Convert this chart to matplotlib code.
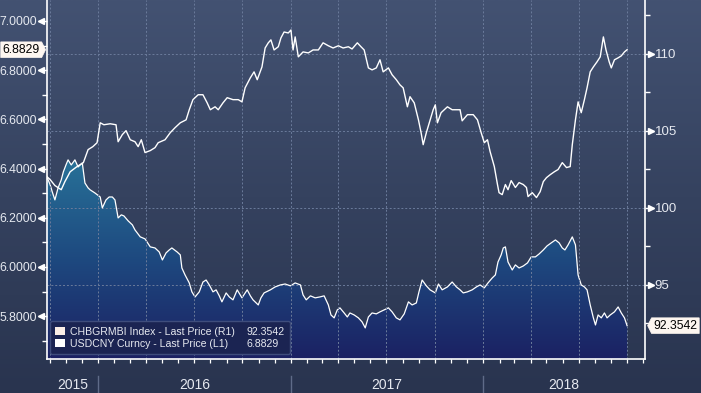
import numpy as np
import pandas as pd
import matplotlib
matplotlib.use("Agg")
import matplotlib.pyplot as plt
import matplotlib.dates as mdates
import matplotlib.transforms as mtrans
from matplotlib.patches import Rectangle
from matplotlib.path import Path
from matplotlib.colors import LinearSegmentedColormap

plt.rcParams['font.family'] = ['Liberation Sans', 'DejaVu Sans']

# USDCNY Curncy (left axis, white line)
usd_dates = ['2015-09-26', '2015-10-02', '2015-10-11', '2015-10-23', '2015-10-30', '2015-11-09',
             '2015-11-22', '2015-12-04', '2015-12-13', '2015-12-22', '2015-12-30', '2016-01-05',
             '2016-01-12', '2016-01-24', '2016-02-04', '2016-02-08', '2016-02-16', '2016-02-23',
             '2016-03-02', '2016-03-11', '2016-03-17', '2016-03-23', '2016-03-30', '2016-04-09',
             '2016-04-18', '2016-04-24', '2016-05-07', '2016-05-17', '2016-05-26', '2016-06-05',
             '2016-06-16', '2016-06-22', '2016-06-29', '2016-07-09', '2016-07-18', '2016-07-26',
             '2016-08-01', '2016-08-10', '2016-08-16', '2016-08-25', '2016-09-02', '2016-09-13',
             '2016-09-23', '2016-09-30', '2016-10-06', '2016-10-16', '2016-10-23', '2016-10-29',
             '2016-11-07', '2016-11-13', '2016-11-19', '2016-11-24', '2016-11-30', '2016-12-08',
             '2016-12-13', '2016-12-19', '2016-12-27', '2017-01-01', '2017-01-05', '2017-01-09',
             '2017-01-15', '2017-01-24', '2017-02-03', '2017-02-12', '2017-02-22', '2017-03-03',
             '2017-03-13', '2017-03-22', '2017-04-01', '2017-04-10', '2017-04-20', '2017-04-27',
             '2017-05-07', '2017-05-14', '2017-05-20', '2017-05-28', '2017-06-04', '2017-06-12',
             '2017-06-19', '2017-06-25', '2017-07-05', '2017-07-12', '2017-07-20', '2017-07-27',
             '2017-08-02', '2017-08-10', '2017-08-15', '2017-08-23', '2017-08-31', '2017-09-05',
             '2017-09-09', '2017-09-15', '2017-09-20', '2017-09-28', '2017-10-02', '2017-10-06',
             '2017-10-13', '2017-10-25', '2017-11-03', '2017-11-13', '2017-11-18', '2017-11-22',
             '2017-12-02', '2017-12-13', '2017-12-21', '2017-12-28', '2018-01-03', '2018-01-09',
             '2018-01-14', '2018-01-22', '2018-01-28', '2018-01-31', '2018-02-06', '2018-02-12',
             '2018-02-17', '2018-02-23', '2018-03-03', '2018-03-10', '2018-03-18', '2018-03-24',
             '2018-03-27', '2018-04-04', '2018-04-12', '2018-04-19', '2018-04-25', '2018-05-01',
             '2018-05-08', '2018-05-16', '2018-05-23', '2018-05-31', '2018-06-08', '2018-06-15',
             '2018-06-19', '2018-06-25', '2018-06-30', '2018-07-06', '2018-07-12', '2018-07-17',
             '2018-07-23', '2018-07-29', '2018-08-05', '2018-08-11', '2018-08-17', '2018-08-22',
             '2018-08-28', '2018-09-01', '2018-09-07', '2018-09-14', '2018-09-20', '2018-09-26',
             '2018-10-01']
usd_vals = [6.367, 6.355, 6.331, 6.314, 6.347, 6.387, 6.408, 6.424, 6.477, 6.489, 6.505, 6.586,
            6.578, 6.582, 6.578, 6.509, 6.538, 6.554, 6.517, 6.509, 6.489, 6.517, 6.465, 6.473,
            6.485, 6.505, 6.517, 6.546, 6.566, 6.586, 6.598, 6.639, 6.680, 6.700, 6.700, 6.667,
            6.639, 6.651, 6.639, 6.667, 6.688, 6.680, 6.680, 6.671, 6.728, 6.769, 6.793, 6.761,
            6.813, 6.890, 6.911, 6.923, 6.882, 6.895, 6.931, 6.955, 6.951, 6.963, 6.882, 6.935,
            6.854, 6.874, 6.870, 6.882, 6.882, 6.911, 6.899, 6.890, 6.899, 6.890, 6.895, 6.886,
            6.911, 6.895, 6.882, 6.809, 6.801, 6.809, 6.842, 6.793, 6.809, 6.781, 6.761, 6.740,
            6.728, 6.651, 6.692, 6.667, 6.598, 6.546, 6.497, 6.546, 6.582, 6.639, 6.659, 6.586,
            6.627, 6.651, 6.639, 6.639, 6.639, 6.594, 6.619, 6.619, 6.598, 6.546, 6.505, 6.517,
            6.469, 6.408, 6.335, 6.302, 6.294, 6.335, 6.314, 6.351, 6.323, 6.343, 6.335, 6.323,
            6.286, 6.302, 6.282, 6.306, 6.347, 6.363, 6.375, 6.387, 6.396, 6.424, 6.404, 6.408,
            6.497, 6.598, 6.671, 6.627, 6.680, 6.728, 6.793, 6.813, 6.834, 6.854, 6.935, 6.882,
            6.834, 6.809, 6.842, 6.850, 6.858, 6.874, 6.8829]

# CHGRMBI Index (right axis, filled area)
chg_dates = ['2015-09-26', '2015-10-02', '2015-10-06', '2015-10-11', '2015-10-17', '2015-10-23',
             '2015-10-27', '2015-11-01', '2015-11-05', '2015-11-11', '2015-11-18', '2015-11-24',
             '2015-12-02', '2015-12-07', '2015-12-13', '2015-12-17', '2015-12-26', '2016-01-05',
             '2016-01-09', '2016-01-16', '2016-01-22', '2016-01-28', '2016-02-02', '2016-02-08',
             '2016-02-14', '2016-02-19', '2016-02-27', '2016-03-06', '2016-03-11', '2016-03-21',
             '2016-03-30', '2016-04-09', '2016-04-18', '2016-04-26', '2016-05-02', '2016-05-09',
             '2016-05-15', '2016-05-20', '2016-05-30', '2016-06-05', '2016-06-08', '2016-06-14',
             '2016-06-22', '2016-06-27', '2016-07-03', '2016-07-11', '2016-07-18', '2016-07-24',
             '2016-07-30', '2016-08-06', '2016-08-12', '2016-08-18', '2016-08-23', '2016-08-31',
             '2016-09-06', '2016-09-13', '2016-09-21', '2016-09-30', '2016-10-10', '2016-10-16',
             '2016-10-21', '2016-10-31', '2016-11-05', '2016-11-11', '2016-11-23', '2016-12-02',
             '2016-12-12', '2016-12-21', '2016-12-31', '2017-01-09', '2017-01-19', '2017-01-24',
             '2017-01-30', '2017-02-07', '2017-02-16', '2017-02-25', '2017-03-05', '2017-03-13',
             '2017-03-18', '2017-03-24', '2017-03-30', '2017-04-04', '2017-04-12', '2017-04-18',
             '2017-04-23', '2017-05-01', '2017-05-09', '2017-05-16', '2017-05-22', '2017-05-28',
             '2017-06-04', '2017-06-12', '2017-06-19', '2017-06-27', '2017-07-05', '2017-07-12',
             '2017-07-20', '2017-07-27', '2017-08-04', '2017-08-12', '2017-08-19', '2017-08-27',
             '2017-09-01', '2017-09-07', '2017-09-15', '2017-09-22', '2017-10-02', '2017-10-08',
             '2017-10-15', '2017-10-25', '2017-11-03', '2017-11-11', '2017-11-18', '2017-11-24',
             '2017-12-02', '2017-12-11', '2017-12-19', '2017-12-26', '2018-01-03', '2018-01-10',
             '2018-01-18', '2018-01-24', '2018-01-29', '2018-02-04', '2018-02-08', '2018-02-12',
             '2018-02-17', '2018-02-25', '2018-03-03', '2018-03-10', '2018-03-18', '2018-03-26',
             '2018-04-02', '2018-04-10', '2018-04-17', '2018-04-25', '2018-05-02', '2018-05-10',
             '2018-05-18', '2018-05-25', '2018-05-31', '2018-06-05', '2018-06-11', '2018-06-19',
             '2018-06-25', '2018-06-30', '2018-07-06', '2018-07-12', '2018-07-17', '2018-07-23',
             '2018-07-29', '2018-08-02', '2018-08-07', '2018-08-13', '2018-08-19', '2018-08-24',
             '2018-08-30', '2018-09-07', '2018-09-14', '2018-09-20', '2018-09-26', '2018-10-01']
chg_vals = [102.0, 101.5, 101.04, 100.52, 101.3, 101.82, 102.34, 102.79, 103.12, 102.79, 103.12,
            102.66, 102.92, 101.62, 101.3, 101.17, 100.97, 100.71, 100.0, 100.52, 100.71, 100.71,
            100.52, 99.35, 99.55, 99.48, 99.16, 98.9, 98.57, 98.12, 97.99, 97.47, 97.4, 97.14,
            96.62, 97.08, 97.27, 97.4, 97.14, 96.95, 96.1, 95.65, 95.13, 94.55, 94.22, 94.55,
            95.19, 95.32, 95.0, 94.55, 94.68, 94.29, 93.9, 94.48, 94.22, 94.03, 94.68, 94.16,
            94.68, 94.29, 94.03, 93.7, 94.16, 94.48, 94.68, 94.87, 95.0, 95.06, 94.94, 95.13,
            95.0, 94.35, 94.03, 94.29, 94.16, 94.22, 94.29, 93.7, 93.05, 92.86, 93.38, 93.51,
            93.18, 92.92, 93.18, 93.05, 92.86, 92.6, 92.21, 92.92, 93.18, 93.12, 93.25, 93.38,
            93.51, 93.25, 92.86, 92.73, 93.12, 93.9, 93.7, 93.83, 94.55, 95.32, 94.94, 94.68,
            94.48, 95.06, 94.68, 94.87, 95.19, 94.87, 94.68, 94.48, 94.55, 94.68, 94.87, 95.0,
            94.81, 95.13, 95.45, 95.65, 96.49, 96.95, 97.4, 97.47, 96.49, 95.97, 96.3, 96.1,
            96.23, 96.43, 96.82, 96.82, 97.01, 97.27, 97.53, 97.73, 97.92, 97.73, 97.4, 97.27,
            97.6, 98.12, 97.6, 95.65, 95.0, 94.87, 94.68, 93.7, 92.86, 92.4, 93.05, 92.86,
            93.18, 92.86, 93.05, 93.25, 93.57, 93.18, 92.86, 92.3542]

left_ticks = [5.8, 6.0, 6.2, 6.4, 6.6, 6.8, 7.0]
left_minor = [5.7, 5.9, 6.1, 6.3, 6.5, 6.7, 6.9]
right_ticks = [95, 100, 105, 110]
right_minor = [92.5, 97.5, 102.5, 107.5, 112.5]
year_labels = ['2015', '2016', '2017', '2018']
legend_names = ['CHBGRMBI Index - Last Price (R1)', 'USDCNY Curncy - Last Price (L1)']
last_chg = '92.3542'
last_usd = '6.8829'

x_start, x_end = pd.Timestamp('2015-09-26'), pd.Timestamp('2018-11-04')
left_lim = (5.626, 7.085)
right_lim = (90.19, 113.5)
txt = '#e6e9f0'


def tag_right(x0, y0, width, height, mutation_size):
    pad = 0.15 * mutation_size
    x0, y0, w, h = x0 - pad, y0 - pad, width + 2 * pad, height + 2 * pad
    tip = h * 0.25
    return Path([(x0, y0), (x0 + w, y0), (x0 + w + tip, y0 + h / 2), (x0 + w, y0 + h),
                 (x0, y0 + h), (x0, y0)], closed=True)


def tag_left(x0, y0, width, height, mutation_size):
    pad = 0.15 * mutation_size
    x0, y0, w, h = x0 - pad, y0 - pad, width + 2 * pad, height + 2 * pad
    tip = h * 0.25
    return Path([(x0, y0), (x0 + w, y0), (x0 + w, y0 + h), (x0, y0 + h),
                 (x0 - tip, y0 + h / 2), (x0, y0)], closed=True)


fig = plt.figure(figsize=(7.01, 3.93), dpi=100)

# background gradient
bg = fig.add_axes([0, 0, 1, 1], zorder=-10)
bg_cmap = LinearSegmentedColormap.from_list('bg', ['#29344f', '#35425f', '#435272'])
bg.imshow(np.linspace(0, 1, 256).reshape(-1, 1), cmap=bg_cmap, aspect='auto',
          origin='lower', extent=[0, 1, 0, 1])
bg.axis('off')

ax = fig.add_axes([47 / 701, 1 - 359 / 393, 598 / 701, 359 / 393])
ax2 = ax.twinx()
ax.set_zorder(ax2.get_zorder() + 1)
ax.patch.set_visible(False)
ax2.patch.set_visible(False)

ud = pd.to_datetime(usd_dates)
cd = pd.to_datetime(chg_dates)

ax.plot(ud, usd_vals, color='white', lw=1.0, zorder=3)

# filled CHGRMBI with vertical gradient
poly = ax2.fill_between(cd, chg_vals, right_lim[0], facecolor='none', edgecolor='none')
x0n, x1n = mdates.date2num(x_start), mdates.date2num(x_end)
fill_cmap = LinearSegmentedColormap.from_list('fill', ['#1b2163', '#1e4a80', '#287399'])
im = ax2.imshow(np.linspace(0, 1, 256).reshape(-1, 1), cmap=fill_cmap, aspect='auto',
                origin='lower', extent=[x0n, x1n, right_lim[0], 103.5], zorder=0.5)
im.set_clip_path(poly.get_paths()[0], transform=ax2.transData)
ax2.plot(cd, chg_vals, color='white', lw=0.9, zorder=2)

ax.set_xlim(x_start, x_end)
ax.set_ylim(*left_lim)
ax2.set_ylim(*right_lim)

# grids
grid_kw = dict(color='#6b7b9b', lw=0.7, ls=(0, (2, 2)))
ax2.set_yticks(right_ticks)
ax2.set_yticks(right_minor, minor=True)
ax2.grid(axis='y', **grid_kw)
ax2.set_axisbelow('line')
ax.xaxis.set_major_locator(mdates.MonthLocator(bymonth=[1, 4, 7, 10]))
ax.xaxis.set_minor_locator(mdates.MonthLocator())
ax.grid(axis='x', **grid_kw)
ax.tick_params(axis='x', which='both', length=3, width=0.9, color='white',
               labelbottom=False, direction='out')

# left axis ticks
ax.set_yticks(left_ticks)
ax.set_yticks(left_minor, minor=True)
ax.set_yticklabels([f'{v:.4f}' for v in left_ticks])
ax.tick_params(axis='y', which='major', length=6.5, width=1, color='white',
               labelcolor=txt, labelsize=8.8, pad=0.5)
ax.tick_params(axis='y', which='minor', length=3.5, width=1, color='white')
ax2.set_yticklabels([f'{v}' for v in right_ticks])
ax2.tick_params(axis='y', which='major', length=6.5, width=1, color='white',
                labelcolor=txt, labelsize=9.5, pad=0.5)
ax2.tick_params(axis='y', which='minor', length=3.5, width=1, color='white')

tl = mtrans.blended_transform_factory(ax.transAxes, ax.transData) + \
    mtrans.ScaledTranslation(-4.4 / 72, 0, fig.dpi_scale_trans)
ax.plot([0] * len(left_ticks), left_ticks, ls='none', marker='<', ms=4, color='white',
        transform=tl, clip_on=False)
tr = mtrans.blended_transform_factory(ax2.transAxes, ax2.transData) + \
    mtrans.ScaledTranslation(4.4 / 72, 0, fig.dpi_scale_trans)
ax2.plot([1] * len(right_ticks), right_ticks, ls='none', marker='>', ms=4, color='white',
         transform=tr, clip_on=False)

for s in ['top', 'right']:
    ax.spines[s].set_visible(False)
for s in ['left', 'bottom']:
    ax.spines[s].set_color('white')
    ax.spines[s].set_linewidth(1.2)
for s in ['top', 'left', 'bottom']:
    ax2.spines[s].set_visible(False)
ax2.spines['right'].set_color('white')
ax2.spines['right'].set_linewidth(1.2)

# year labels and separators
bt = mtrans.blended_transform_factory(ax.transData, ax.transAxes)
bounds = [x_start] + [pd.Timestamp(f'{y}-01-01') for y in year_labels[1:]] + [x_end]
for i, lab in enumerate(year_labels):
    mid = bounds[i] + (bounds[i + 1] - bounds[i]) / 2
    ax.text(mid, -0.073, lab, transform=bt, ha='center', va='center', fontsize=10,
            color=txt, clip_on=False)
for b in bounds[1:-1]:
    ax.plot([b, b], [-0.047, -0.11], transform=bt, color='#5f6b88', lw=1, clip_on=False)

# last value tags
ax.text(-0.012, float(last_usd), last_usd, transform=mtrans.blended_transform_factory(
    ax.transAxes, ax.transData), ha='right', va='center', fontsize=8.8, color='black',
    bbox=dict(boxstyle=tag_right, fc='#fdf6f0', ec='#fdf6f0', lw=0.5), zorder=10, clip_on=False)
ax2.text(1.014, float(last_chg), last_chg, transform=mtrans.blended_transform_factory(
    ax2.transAxes, ax2.transData), ha='left', va='center', fontsize=8.8, color='black',
    bbox=dict(boxstyle=tag_left, fc='#fdf6f0', ec='#fdf6f0', lw=0.5), zorder=10, clip_on=False)

# legend
handles = [Rectangle((0, 0), 1, 1, fc='#fbeee6', ec='none'),
           Rectangle((0, 0), 1, 1, fc='white', ec='none'),
           Rectangle((0, 0), 1, 1, fc='none', ec='none'),
           Rectangle((0, 0), 1, 1, fc='none', ec='none')]
leg = ax.legend(handles, legend_names + [last_chg, last_usd], ncol=2, loc='lower left',
                bbox_to_anchor=(0.005, 0.014), borderaxespad=0, fontsize=7.6,
                handlelength=0.9, handleheight=0.9, handletextpad=0.5, columnspacing=-0.3,
                labelspacing=0.2, borderpad=0.5, fancybox=True, facecolor='#1b2452',
                edgecolor='#3f4d7c', labelcolor=txt, framealpha=1)
leg.get_frame().set_linewidth(1.0)
leg.set_zorder(20)

fig.savefig('out.png', dpi=100)
